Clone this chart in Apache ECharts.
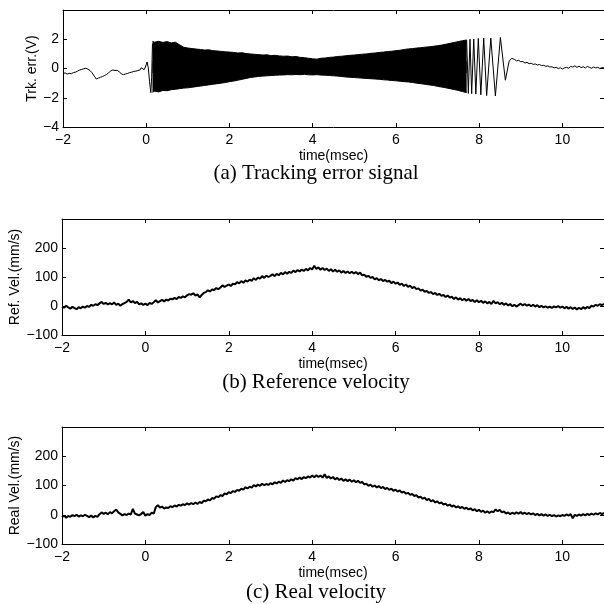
<!DOCTYPE html>
<html><head><meta charset="utf-8">
<script src="https://cdn.jsdelivr.net/npm/echarts@6/dist/echarts.min.js"></script>
<style>html,body{margin:0;padding:0;background:#fff}#c{width:604px;height:604px}</style>
</head><body><div id="c"></div>
<script>
// ---- (a) tracking error signal ----
var errT1 = [-2,-1.95,-1.9,-1.85,-1.8,-1.75,-1.7,-1.65,-1.6,-1.55,-1.5,-1.45,-1.4,-1.35,-1.3,-1.25,-1.2,-1.15,-1.1,-1.05,-1,-0.95,-0.9,-0.85,-0.8,-0.75,-0.7,-0.65,-0.6,-0.55,-0.5,-0.45,-0.4,-0.35,-0.3,-0.25,-0.2,-0.15,-0.12,-0.08,-0.05,-0.02,0.02,0.05,0.08,0.11,0.13,0.15];
var errV1 = [-0.35,-0.30,-0.38,-0.33,-0.36,-0.28,-0.25,-0.18,-0.10,-0.06,-0.02,0.02,-0.05,-0.14,-0.30,-0.52,-0.72,-0.66,-0.60,-0.55,-0.48,-0.40,-0.28,-0.16,-0.10,-0.14,-0.12,-0.22,-0.36,-0.42,-0.38,-0.34,-0.28,-0.25,-0.20,-0.18,-0.14,-0.10,0.05,0.12,-0.08,0.10,0.45,0.05,-0.90,-1.65,-0.60,1.70];
var bandT = [0.15,0.2,0.3,0.4,0.5,0.6,0.7,0.8,0.9,1.0,1.1,1.2,1.3,1.4,1.5,1.6,1.7,1.8,1.9,2.0,2.1,2.2,2.3,2.4,2.5,2.6,2.7,2.8,2.9,3.0,3.1,3.2,3.3,3.4,3.5,3.6,3.7,3.8,3.9,4.0,4.1,4.2,4.3,4.4,4.5,4.6,4.7,4.8,4.9,5.0,5.1,5.2,5.3,5.4,5.5,5.6,5.7,5.8,5.9,6.0,6.1,6.2,6.3,6.4,6.5,6.6,6.7,6.8,6.9,7.0,7.1,7.2,7.3,7.4,7.5,7.6,7.7];
var bandHi = [1.85,1.80,1.86,1.78,1.84,1.75,1.80,1.62,1.45,1.40,1.36,1.33,1.30,1.26,1.28,1.22,1.20,1.17,1.14,1.12,1.10,1.06,1.08,1.02,1.00,0.97,0.95,0.92,0.94,0.88,0.90,0.86,0.84,0.85,0.80,0.82,0.76,0.74,0.70,0.66,0.64,0.70,0.72,0.76,0.78,0.82,0.84,0.87,0.90,0.92,0.95,0.98,1.00,1.04,1.06,1.10,1.12,1.16,1.18,1.22,1.25,1.30,1.34,1.36,1.40,1.42,1.46,1.48,1.52,1.56,1.60,1.66,1.72,1.78,1.84,1.90,1.95];
var bandLo = [-1.62,-1.55,-1.60,-1.50,-1.52,-1.45,-1.42,-1.38,-1.34,-1.32,-1.28,-1.24,-1.20,-1.16,-1.12,-1.08,-1.04,-1.00,-0.96,-0.90,-0.86,-0.80,-0.74,-0.68,-0.62,-0.58,-0.54,-0.52,-0.50,-0.48,-0.46,-0.45,-0.44,-0.42,-0.43,-0.41,-0.42,-0.40,-0.43,-0.44,-0.42,-0.45,-0.46,-0.48,-0.50,-0.52,-0.55,-0.58,-0.60,-0.62,-0.64,-0.66,-0.68,-0.70,-0.72,-0.74,-0.77,-0.79,-0.82,-0.84,-0.87,-0.90,-0.92,-0.96,-1.00,-1.04,-1.08,-1.12,-1.16,-1.22,-1.27,-1.32,-1.38,-1.44,-1.50,-1.58,-1.65];
var errT2 = [7.7,7.74,7.78,7.82,7.87,7.92,7.98,8.04,8.11,8.18,8.28,8.39,8.51,8.63,8.72,8.78,8.85,8.9,8.95,9.0,9.05,9.1,9.15,9.2,9.25,9.3,9.35,9.4,9.45,9.5,9.55,9.6,9.65,9.7,9.75,9.8,9.85,9.9,9.95,10.0,10.05,10.1,10.15,10.2,10.25,10.3,10.35,10.4,10.45,10.5,10.55,10.6,10.65,10.7,10.75,10.8,10.85,10.9,10.95,11];
var errV2 = [1.95,-1.70,2.00,-1.72,2.02,-1.75,2.05,-1.80,2.08,-1.85,2.08,-1.88,2.12,-0.80,0.50,0.70,0.62,0.52,0.56,0.46,0.48,0.38,0.42,0.33,0.36,0.28,0.31,0.24,0.27,0.20,0.22,0.15,0.18,0.10,0.12,0.04,0.08,0.0,0.05,-0.04,0.04,0.08,0.02,0.14,0.10,0.18,0.08,0.16,0.06,0.12,0.04,0.14,0.08,0.02,0.10,0.04,0.08,0.0,0.06,0.04];

// ---- (b),(c) velocities, shared sample times (msec) ----
var velT = [
-2,-1.95,-1.9,-1.85,-1.8,-1.75,-1.7,-1.65,-1.6,-1.55,-1.5,-1.45,-1.4,-1.35,-1.3,-1.25,-1.2,-1.15,-1.1,-1.05,
-1,-0.95,-0.9,-0.85,-0.8,-0.75,-0.7,-0.65,-0.6,-0.55,-0.5,-0.45,-0.4,-0.35,-0.3,-0.25,-0.2,-0.15,-0.1,-0.05,
0,0.05,0.1,0.15,0.2,0.25,0.3,0.35,0.4,0.45,0.5,0.55,0.6,0.65,0.7,0.75,0.8,0.85,0.9,0.95,
1,1.05,1.1,1.15,1.2,1.25,1.3,1.35,1.4,1.45,1.5,1.55,1.6,1.65,1.7,1.75,1.8,1.85,1.9,1.95,
2,2.05,2.1,2.15,2.2,2.25,2.3,2.35,2.4,2.45,2.5,2.55,2.6,2.65,2.7,2.75,2.8,2.85,2.9,2.95,
3,3.05,3.1,3.15,3.2,3.25,3.3,3.35,3.4,3.45,3.5,3.55,3.6,3.65,3.7,3.75,3.8,3.85,3.9,3.95,
4,4.05,4.1,4.15,4.2,4.25,4.3,4.35,4.4,4.45,4.5,4.55,4.6,4.65,4.7,4.75,4.8,4.85,4.9,4.95,
5,5.05,5.1,5.15,5.2,5.25,5.3,5.35,5.4,5.45,5.5,5.55,5.6,5.65,5.7,5.75,5.8,5.85,5.9,5.95,
6,6.05,6.1,6.15,6.2,6.25,6.3,6.35,6.4,6.45,6.5,6.55,6.6,6.65,6.7,6.75,6.8,6.85,6.9,6.95,
7,7.05,7.1,7.15,7.2,7.25,7.3,7.35,7.4,7.45,7.5,7.55,7.6,7.65,7.7,7.75,7.8,7.85,7.9,7.95,
8,8.05,8.1,8.15,8.2,8.25,8.3,8.35,8.4,8.45,8.5,8.55,8.6,8.65,8.7,8.75,8.8,8.85,8.9,8.95,
9,9.05,9.1,9.15,9.2,9.25,9.3,9.35,9.4,9.45,9.5,9.55,9.6,9.65,9.7,9.75,9.8,9.85,9.9,9.95,
10,10.05,10.1,10.15,10.2,10.25,10.3,10.35,10.4,10.45,10.5,10.55,10.6,10.65,10.7,10.75,10.8,10.85,10.9,10.95,
11];
var refVel = [
-2,-6,1,-5,-9,-3,-7,-11,-4,-8,-2,-6,0,-3,4,1,6,3,9,14,
7,11,5,10,6,12,4,8,1,7,10,14,22,12,17,10,14,6,9,4,
8,3,11,7,13,20,12,17,21,16,22,19,25,23,28,24,31,28,33,30,
37,41,39,44,36,40,30,38,45,48,54,50,57,55,62,58,64,71,66,70,
74,69,77,75,82,78,86,80,88,84,91,87,96,90,98,94,103,97,105,100,
104,109,103,111,106,114,109,117,111,118,114,122,117,124,119,126,121,128,123,131,
126,139,128,133,125,131,124,129,121,127,119,125,118,123,115,121,114,119,113,118,
112,117,110,115,106,108,101,104,97,100,92,96,89,93,86,90,84,87,79,84,
77,81,73,77,69,74,66,70,62,66,58,61,53,56,49,52,45,48,41,45,
38,42,35,38,31,36,29,32,24,30,22,27,20,25,18,24,17,21,14,20,
13,18,11,16,9,14,7,18,9,13,6,11,4,9,2,7,-1,4,-2,3,
8,2,7,1,5,-1,4,-2,3,-4,1,-5,-1,-6,-2,-7,-1,-5,0,-6,
-2,-8,-3,-9,-4,-10,-5,-12,-6,-11,-4,-9,-3,-7,1,-2,4,1,6,3,
7];
var realVel = [
-8,-3,-10,-4,-7,-1,-5,0,-6,-2,-5,0,-4,-8,-3,-9,-4,-7,2,8,
3,7,2,9,5,12,18,8,3,-2,2,-1,4,1,20,4,1,-2,3,9,
-3,2,-1,7,4,26,33,24,28,21,25,23,29,26,32,28,34,31,36,33,
39,35,40,36,42,37,44,40,48,46,52,49,57,55,63,60,67,64,73,70,
77,74,81,78,85,82,89,86,94,90,96,93,101,97,103,99,106,101,105,102,
108,104,111,107,113,109,117,112,118,115,121,117,125,121,127,122,129,125,131,127,
134,128,135,129,134,127,138,126,131,124,129,121,126,119,124,116,121,115,120,113,
118,111,116,109,112,104,106,99,103,96,100,93,98,91,95,88,92,85,89,82,
86,79,83,76,79,72,75,68,71,64,67,59,62,55,58,50,54,46,50,42,
46,39,42,35,38,31,35,28,32,25,29,23,27,20,24,18,22,15,19,12,
17,10,14,7,12,6,11,9,18,12,17,8,11,4,8,2,7,3,8,4,
9,3,7,2,6,1,5,-1,3,-2,2,-3,1,-4,0,-5,-1,-6,-2,-5,
-1,-4,1,-3,2,-12,0,-4,1,-3,2,-2,3,-1,4,0,5,1,6,2,
6];

var xTicks = {min: -2, max: 11, interval: 2};
var yErrTicks = {min: -4, max: 4, interval: 2};
var yVelTicks = {min: -100, max: 300, interval: 100};

var captions = ['(a) Tracking error signal', '(b) Reference velocity', '(c) Real velocity'];
var yNames = ['Trk. err.(V)', 'Ref. Vel.(mm/s)', 'Real Vel.(mm/s)'];
var xName = 'time(msec)';

function pairs(t, v) { return t.map(function (x, i) { return [x, v[i]]; }); }
function minus(v) { return String(v).replace('-', '\u2212'); }

var SANS = 'Liberation Sans, Arial, Helvetica, sans-serif';
var grids = [
  {left: 63, right: 0, top: 10, height: 117},
  {left: 62, right: 0, top: 219, height: 116},
  {left: 62, right: 0, top: 427, height: 117}
];
grids.forEach(function (g) { g.containLabel = false; g.outerBoundsMode = 'none'; });

var LINE = {show: true, onZero: false, lineStyle: {color: '#000', width: 1}};
var TICK = {show: true, inside: true, length: 4, lineStyle: {color: '#000'}};
var xAxes = [], yAxes = [];
var yNameGaps = [24, 40, 40];
[0, 1, 2].forEach(function (i) {
  var yt = i === 0 ? yErrTicks : yVelTicks;
  xAxes.push({
    type: 'value', gridIndex: i, position: 'bottom', min: xTicks.min, max: xTicks.max, interval: xTicks.interval,
    name: xName, nameLocation: 'middle', nameGap: 22, nameMoveOverlap: false,
    nameTextStyle: {color: '#000', fontFamily: SANS, fontSize: 14},
    axisLine: LINE, axisTick: TICK,
    axisLabel: {color: '#000', fontFamily: SANS, fontSize: 14, margin: 6, showMaxLabel: false, formatter: minus},
    splitLine: {show: false}
  });
  xAxes.push({
    type: 'value', gridIndex: i, position: 'top', min: xTicks.min, max: xTicks.max, interval: xTicks.interval,
    axisLine: LINE, axisTick: TICK, axisLabel: {show: false}, splitLine: {show: false}
  });
  yAxes.push({
    type: 'value', gridIndex: i, position: 'left', min: yt.min, max: yt.max, interval: yt.interval,
    name: yNames[i], nameLocation: 'middle', nameGap: yNameGaps[i], nameRotate: 90, nameMoveOverlap: false,
    nameTextStyle: {color: '#000', fontFamily: SANS, fontSize: 14},
    axisLine: LINE, axisTick: TICK,
    axisLabel: {color: '#000', fontFamily: SANS, fontSize: 14, margin: 4, showMaxLabel: false, formatter: minus},
    splitLine: {show: false}
  });
  yAxes.push({
    type: 'value', gridIndex: i, position: 'right', min: yt.min, max: yt.max, interval: yt.interval,
    axisLine: LINE, axisTick: TICK, axisLabel: {show: false}, splitLine: {show: false}
  });
});

function lineSeries(xi, yi, data, w) {
  return {type: 'line', xAxisIndex: xi, yAxisIndex: yi, data: data, showSymbol: false, symbol: 'none',
    lineStyle: {color: '#000', width: w}, itemStyle: {color: '#000'}, silent: true};
}
// dense oscillation band: upper envelope filled downward, lower envelope filled upward (overlapping)
function bandSeries(data, org) {
  var s = lineSeries(0, 0, data, 1);
  s.areaStyle = {color: '#000', opacity: 1, origin: org};
  return s;
}

var series = [
  bandSeries(pairs(bandT, bandHi), -0.3),
  bandSeries(pairs(bandT, bandLo), 0.5),
  lineSeries(0, 0, pairs(errT1, errV1), 1),
  lineSeries(0, 0, pairs(errT2, errV2), 1),
  lineSeries(2, 2, pairs(velT, refVel), 2),
  lineSeries(4, 4, pairs(velT, realVel), 2)
];

var capY = [173, 382, 592];
var graphic = captions.map(function (c, i) {
  return {type: 'text', x: 316, y: capY[i], silent: true,
    style: {text: c, fill: '#000', font: '21px "Liberation Serif", "Times New Roman", serif',
      textAlign: 'center', textVerticalAlign: 'middle'}};
});

var chart = echarts.init(document.getElementById('c'), null, {renderer: 'canvas'});
chart.setOption({
  animation: false,
  backgroundColor: '#fff',
  grid: grids,
  xAxis: xAxes,
  yAxis: yAxes,
  series: series,
  graphic: graphic
});
</script></body></html>
